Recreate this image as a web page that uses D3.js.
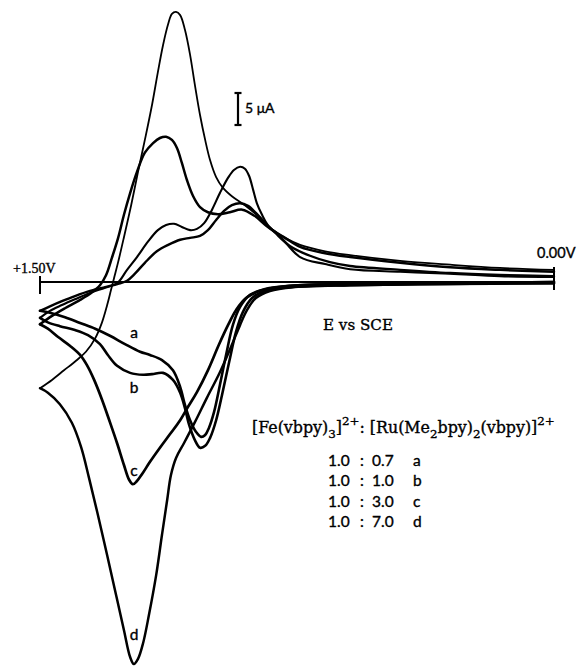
<!DOCTYPE html>
<html><head><meta charset="utf-8">
<script src="https://cdn.jsdelivr.net/npm/d3@7"></script>
<style>
html,body{margin:0;padding:0;background:#fff;}
svg{display:block;}
.serif{font-family:"Liberation Serif","Times New Roman",serif;}
.dserif{font-family:"DejaVu Serif",serif;}
.sans{font-family:Lato,"Open Sans","DejaVu Sans",sans-serif;}
text{fill:#000;stroke:#000;stroke-width:0.35px;}
</style></head><body>
<svg id="chart" width="577" height="667"></svg>
<script>
// Potential E (V vs SCE) and current i (microamps).
// Lower branch = forward scan (0.00 V -> +1.50 V), upper = reverse scan.
const aLower = [[0.000,0.0],[0.303,-0.2],[0.595,-0.3],[0.770,-0.6],[0.843,-1.1],[0.887,-2.0],[0.916,-3.9],[0.937,-6.7],[0.957,-11.4],[0.975,-16.1],[0.992,-20.3],[1.007,-22.8],[1.018,-23.9],[1.030,-24.2],[1.045,-23.4],[1.062,-21.6],[1.077,-19.2],[1.091,-16.4],[1.112,-13.8],[1.144,-12.2],[1.179,-11.4],[1.208,-10.9],[1.252,-9.7],[1.296,-8.4],[1.339,-7.3],[1.383,-6.4],[1.427,-5.5],[1.471,-4.8],[1.500,-4.5]];
const aUpper = [[1.500,-4.5],[1.471,-3.8],[1.436,-3.0],[1.398,-2.2],[1.354,-1.4],[1.310,-0.8],[1.272,-0.3],[1.246,0.2],[1.223,1.3],[1.194,3.0],[1.159,4.8],[1.126,5.8],[1.091,6.6],[1.062,6.9],[1.033,7.2],[1.010,8.1],[0.986,9.7],[0.963,11.1],[0.940,12.0],[0.916,12.3],[0.893,11.9],[0.870,10.8],[0.846,9.4],[0.814,7.7],[0.770,5.6],[0.712,4.1],[0.654,3.1],[0.595,2.5],[0.449,1.9],[0.303,1.4],[0.158,1.1],[0.000,0.9]];
const bLower = [[0.000,-0.2],[0.303,-0.3],[0.595,-0.5],[0.770,-0.8],[0.843,-1.4],[0.881,-2.5],[0.908,-4.7],[0.928,-7.8],[0.948,-12.5],[0.969,-17.7],[0.986,-21.6],[1.004,-24.4],[1.018,-25.6],[1.033,-25.9],[1.048,-24.7],[1.065,-22.3],[1.077,-19.7],[1.091,-17.3],[1.112,-15.3],[1.141,-14.2],[1.173,-14.4],[1.199,-14.5],[1.237,-14.2],[1.275,-13.1],[1.302,-11.4],[1.325,-9.7],[1.360,-8.3],[1.398,-7.5],[1.442,-6.9],[1.477,-6.3],[1.500,-5.6]];
const bUpper = [[1.500,-5.6],[1.471,-4.5],[1.436,-3.6],[1.398,-2.7],[1.354,-1.7],[1.310,-0.9],[1.275,-0.2],[1.246,1.9],[1.217,3.9],[1.185,6.3],[1.156,8.1],[1.132,8.9],[1.109,9.1],[1.086,8.6],[1.062,8.1],[1.042,8.3],[1.021,9.2],[0.998,11.3],[0.975,13.9],[0.951,16.3],[0.934,17.5],[0.916,18.0],[0.902,17.7],[0.890,16.6],[0.878,14.4],[0.867,12.3],[0.852,10.5],[0.835,8.9],[0.800,7.2],[0.741,3.9],[0.668,2.8],[0.595,2.0],[0.449,1.6],[0.303,1.3],[0.158,0.9],[0.000,0.8]];
const cLower = [[0.000,0.0],[0.303,-0.2],[0.595,-0.3],[0.770,-0.6],[0.852,-1.3],[0.899,-2.5],[0.928,-4.4],[0.951,-6.7],[0.978,-9.8],[1.010,-13.8],[1.042,-17.2],[1.068,-19.5],[1.091,-21.6],[1.121,-23.8],[1.150,-25.9],[1.179,-28.1],[1.202,-30.0],[1.217,-31.1],[1.229,-31.6],[1.240,-30.9],[1.255,-28.6],[1.275,-25.2],[1.296,-21.9],[1.319,-18.4],[1.342,-15.3],[1.363,-13.0],[1.383,-11.4],[1.412,-10.0],[1.447,-8.6],[1.477,-7.3],[1.500,-6.6]];
const cUpper = [[1.500,-6.6],[1.465,-5.3],[1.427,-4.1],[1.383,-2.8],[1.348,-1.6],[1.325,-0.5],[1.307,1.1],[1.290,3.8],[1.272,6.9],[1.255,10.5],[1.237,13.9],[1.217,17.2],[1.194,20.2],[1.170,21.7],[1.150,22.5],[1.132,22.7],[1.115,22.2],[1.100,20.9],[1.086,18.6],[1.071,15.9],[1.053,13.4],[1.033,11.7],[1.010,10.9],[0.981,10.6],[0.946,10.9],[0.910,11.3],[0.873,10.3],[0.835,8.6],[0.785,6.9],[0.741,5.5],[0.668,4.5],[0.595,3.9],[0.449,3.0],[0.303,2.3],[0.158,1.9],[0.000,1.6]];
const dLower = [[0.000,-0.2],[0.303,-0.3],[0.595,-0.5],[0.756,-0.8],[0.829,-1.4],[0.870,-2.5],[0.896,-4.4],[0.916,-6.7],[0.940,-9.8],[0.975,-14.1],[1.013,-18.1],[1.048,-21.9],[1.080,-25.2],[1.103,-27.5],[1.118,-30.2],[1.129,-34.1],[1.144,-39.5],[1.161,-45.8],[1.182,-52.0],[1.199,-56.4],[1.214,-58.9],[1.226,-59.7],[1.237,-58.6],[1.255,-54.4],[1.278,-48.9],[1.304,-42.7],[1.331,-36.4],[1.357,-30.6],[1.380,-25.8],[1.407,-22.0],[1.442,-19.1],[1.477,-17.3],[1.500,-16.6]];
const dUpper = [[1.500,-16.6],[1.465,-15.3],[1.430,-13.8],[1.395,-12.3],[1.366,-10.9],[1.339,-8.8],[1.319,-6.3],[1.304,-3.6],[1.293,-1.3],[1.284,0.6],[1.272,3.1],[1.255,7.0],[1.234,12.0],[1.214,17.2],[1.194,22.2],[1.173,27.7],[1.156,32.8],[1.141,37.0],[1.126,40.3],[1.115,41.9],[1.103,42.2],[1.091,41.7],[1.077,39.4],[1.062,35.5],[1.048,30.8],[1.033,26.1],[1.018,22.2],[1.004,19.1],[0.986,16.4],[0.966,14.7],[0.940,13.4],[0.902,12.0],[0.864,10.3],[0.829,8.4],[0.785,6.9],[0.741,5.8],[0.668,4.8],[0.595,4.2],[0.449,3.3],[0.303,2.7],[0.158,2.2],[0.000,1.9]];

const seriesNames = ["a","b","c","d"];
const ratioFe = ["1.0","1.0","1.0","1.0"];
const ratioRu = ["0.7","1.0","3.0","7.0"];
const potentialTicks = [1.5, 0.0];
const tickLabels = ["+1.50V", "0.00V"];
const scaleBarValue = 5; // microamps

const svg = d3.select("#chart");
const x = d3.scaleLinear().domain([1.5, 0]).range([40, 554]);
const y = d3.scaleLinear().domain([-60, 45]).range([666, -6]);
const line = d3.line().x(d => x(d[0])).y(d => y(d[1])).curve(d3.curveCatmullRom.alpha(0.5));

// scale font so the text spans a given width
function fitWidth(sel, target) {
  const fs = +sel.attr("font-size");
  const w = sel.node().getBBox().width;
  const k = target / w;
  sel.attr("font-size", fs * k);
  sel.selectAll("tspan").each(function() {
    const t = d3.select(this);
    if (t.attr("font-size")) t.attr("font-size", +t.attr("font-size") * k);
    if (t.attr("dy")) t.attr("dy", +t.attr("dy") * k);
  });
}

// zero-current axis
const y0 = y(0);
svg.append("line").attr("x1", x(1.5)).attr("x2", x(0)).attr("y1", y0).attr("y2", y0)
  .attr("stroke", "#000").attr("stroke-width", 1.8);
svg.selectAll(".tick").data(potentialTicks).join("line")
  .attr("class", "tick")
  .attr("x1", d => x(d)).attr("x2", d => x(d))
  .attr("y1", (d, i) => i === 0 ? y0 - 6 : y0 - 15)
  .attr("y2", (d, i) => i === 0 ? y0 + 12 : y0 + 8)
  .attr("stroke", "#000").attr("stroke-width", 2);
svg.append("text").attr("class", "serif").attr("x", x(potentialTicks[0]) - 27).attr("y", y0 - 9)
  .attr("font-size", 14).text(tickLabels[0]);
svg.append("text").attr("class", "sans").attr("x", x(potentialTicks[1]) - 17).attr("y", y0 - 24)
  .attr("font-size", 14.5).text(tickLabels[1]);
const evs = svg.append("text").attr("class", "dserif").attr("x", 323).attr("y", 330)
  .attr("font-size", 14).text("E vs SCE");
fitWidth(evs, 70);

// curves
const branches = [
  {d: aLower, w: 2.6}, {d: aUpper, w: 2.4},
  {d: bLower, w: 2.6}, {d: bUpper, w: 2.1},
  {d: cLower, w: 2.7}, {d: cUpper, w: 2.5},
  {d: dLower, w: 2.5}, {d: dUpper, w: 1.8}
];
svg.selectAll(".cv").data(branches).join("path")
  .attr("class", "cv")
  .attr("d", b => line(b.d))
  .attr("fill", "none").attr("stroke", "#000")
  .attr("stroke-width", b => b.w)
  .attr("stroke-linejoin", "round").attr("stroke-linecap", "round");

// curve labels
const labelPos = [[134, 338], [134, 393], [134, 476], [134, 640]];
svg.selectAll(".clab").data(seriesNames).join("text")
  .attr("class", "clab sans")
  .attr("x", (d, i) => labelPos[i][0]).attr("y", (d, i) => labelPos[i][1])
  .attr("text-anchor", "middle").attr("font-size", 15.5).text(d => d);

// scale bar
const sbx = 238, sbTop = 93;
const sbLen = y(0) - y(scaleBarValue);
const sb = svg.append("g").attr("stroke", "#000").attr("stroke-width", 2.2);
sb.append("line").attr("x1", sbx).attr("x2", sbx).attr("y1", sbTop).attr("y2", sbTop + sbLen);
sb.append("line").attr("x1", sbx - 3.5).attr("x2", sbx + 3.5).attr("y1", sbTop).attr("y2", sbTop);
sb.append("line").attr("x1", sbx - 3.5).attr("x2", sbx + 3.5).attr("y1", sbTop + sbLen).attr("y2", sbTop + sbLen);
svg.append("text").attr("class", "sans").attr("x", 245).attr("y", 113).attr("font-size", 14)
  .text(scaleBarValue + " \u03bcA");

// legend title
const title = svg.append("text").attr("class", "dserif").attr("x", 252).attr("y", 433).attr("font-size", 14);
const parts = [
  ["[Fe(vbpy)", 0, null], ["3", 4, 10.5], ["]", -4, null], ["2+", -7, 10.5],
  [": [Ru(Me", 7, null], ["2", 4, 10.5], ["bpy)", -4, null], ["2", 4, 10.5],
  ["(vbpy)]", -4, null], ["2+", -7, 10.5]
];
parts.forEach(p => {
  const t = title.append("tspan").attr("dy", p[1]).text(p[0]);
  if (p[2]) t.attr("font-size", p[2]);
});
fitWidth(title, 303);

// legend rows
const rows = svg.selectAll(".lrow").data(seriesNames).join("g").attr("class", "lrow sans")
  .attr("font-size", 15.5);
rows.append("text").attr("x", 328).attr("y", (d, i) => 466 + i * 20.3).text((d, i) => ratioFe[i]);
rows.append("text").attr("x", 360).attr("y", (d, i) => 466 + i * 20.3).text(":");
rows.append("text").attr("x", 372).attr("y", (d, i) => 466 + i * 20.3).text((d, i) => ratioRu[i]);
rows.append("text").attr("x", 413).attr("y", (d, i) => 466 + i * 20.3).text(d => d);
</script>
</body></html>
